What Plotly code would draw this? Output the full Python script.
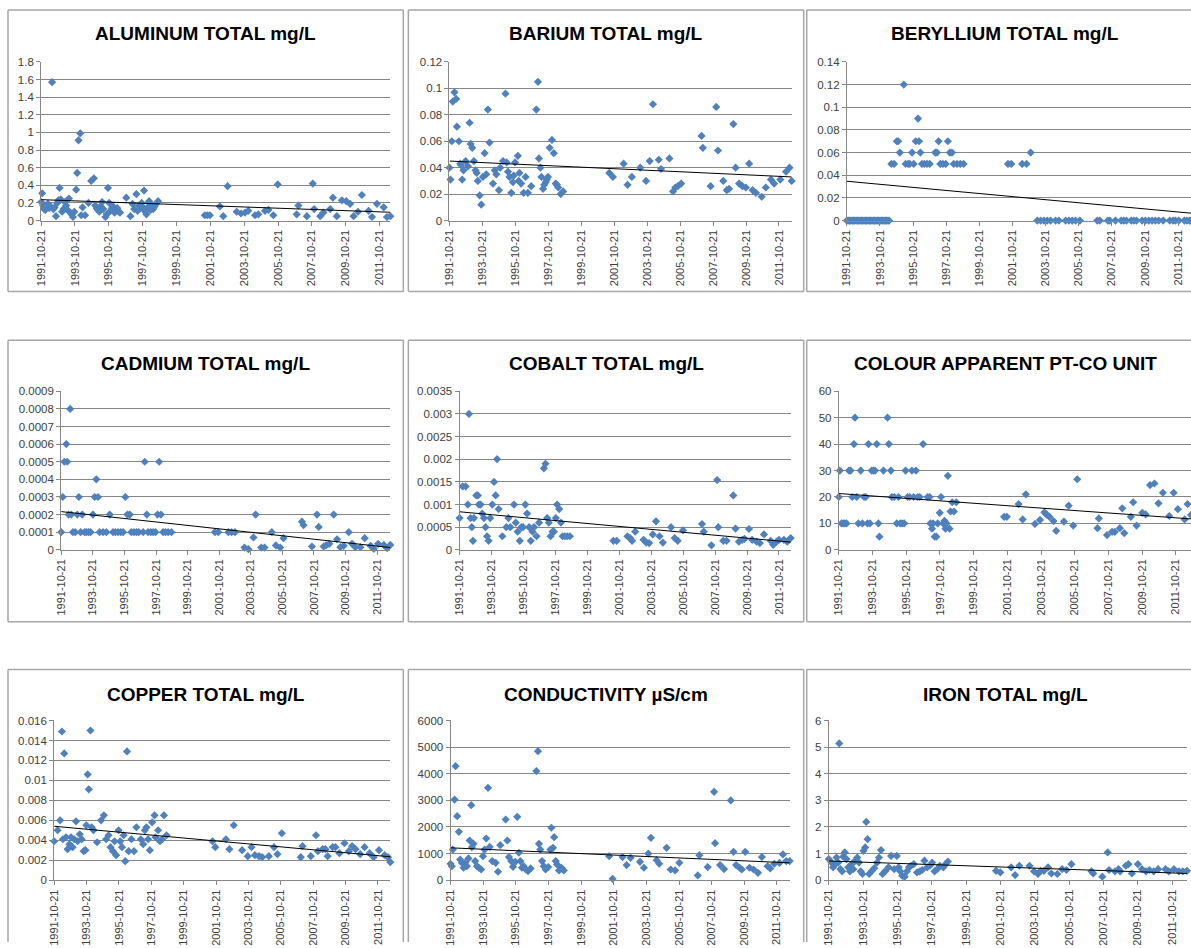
import plotly.graph_objects as go
from datetime import datetime, timedelta

# ---------------- DATA (decimal year, value) ----------------
X_TICK_LABELS = ['1991-10-21', '1993-10-21', '1995-10-21', '1997-10-21', '1999-10-21',
                 '2001-10-21', '2003-10-21', '2005-10-21', '2007-10-21', '2009-10-21',
                 '2011-10-21']

AL_TITLE = 'ALUMINUM TOTAL mg/L'
AL_YTICKS = ['0', '0.2', '0.4', '0.6', '0.8', '1', '1.2', '1.4', '1.6', '1.8']
AL_TREND = [0.237, 0.094]
AL_POINTS = [
    (1991.80, 0.21), (1991.86, 0.31), (1991.92, 0.17), (1991.98, 0.13), (1992.05, 0.12),
    (1992.12, 0.15), (1992.20, 0.19), (1992.28, 0.14), (1992.36, 0.16), (1992.45, 1.57),
    (1992.53, 0.13), (1992.60, 0.15), (1992.68, 0.05), (1992.75, 0.20), (1992.82, 0.23),
    (1992.89, 0.37), (1992.96, 0.24), (1993.04, 0.10), (1993.12, 0.13), (1993.20, 0.21),
    (1993.28, 0.17), (1993.36, 0.12), (1993.44, 0.25), (1993.52, 0.09), (1993.60, 0.07),
    (1993.68, 0.04), (1993.76, 0.10), (1993.87, 0.35), (1993.93, 0.54), (1994.01, 0.91),
    (1994.11, 0.99), (1994.17, 0.06), (1994.25, 0.15), (1994.40, 0.06), (1994.60, 0.20),
    (1994.76, 0.45), (1994.92, 0.48), (1995.00, 0.17), (1995.08, 0.14), (1995.16, 0.12),
    (1995.24, 0.10), (1995.32, 0.16), (1995.40, 0.21), (1995.48, 0.13), (1995.60, 0.04),
    (1995.68, 0.07), (1995.75, 0.37), (1995.82, 0.20), (1995.90, 0.11), (1995.98, 0.14),
    (1996.06, 0.16), (1996.14, 0.09), (1996.22, 0.12), (1996.30, 0.14), (1996.38, 0.10),
    (1996.46, 0.09), (1996.83, 0.26), (1997.08, 0.05), (1997.20, 0.19), (1997.30, 0.13),
    (1997.43, 0.30), (1997.50, 0.11), (1997.58, 0.17), (1997.66, 0.14), (1997.74, 0.20),
    (1997.82, 0.15), (1997.88, 0.34), (1997.95, 0.10), (1998.02, 0.07), (1998.10, 0.15),
    (1998.18, 0.22), (1998.26, 0.12), (1998.34, 0.18), (1998.42, 0.13), (1998.50, 0.16),
    (1998.60, 0.19), (1998.71, 0.22),
    (2001.47, 0.06), (2001.62, 0.06), (2001.77, 0.06), (2002.36, 0.16), (2002.56, 0.05),
    (2002.82, 0.39), (2003.35, 0.10), (2003.61, 0.08), (2003.85, 0.09), (2004.04, 0.11),
    (2004.44, 0.06), (2004.63, 0.07), (2005.03, 0.11), (2005.23, 0.12), (2005.52, 0.06),
    (2005.78, 0.41), (2006.90, 0.07), (2007.00, 0.17), (2007.50, 0.05), (2007.85, 0.42),
    (2007.93, 0.13), (2008.29, 0.05), (2008.48, 0.09), (2008.88, 0.13), (2009.04, 0.26),
    (2009.27, 0.05), (2009.57, 0.23), (2009.83, 0.22), (2010.06, 0.19), (2010.26, 0.05),
    (2010.52, 0.10), (2010.75, 0.29), (2011.15, 0.11), (2011.35, 0.04), (2011.64, 0.19),
    (2012.04, 0.15), (2012.23, 0.04), (2012.43, 0.05),
]

BA_TITLE = 'BARIUM TOTAL mg/L'
BA_YTICKS = ['0', '0.02', '0.04', '0.06', '0.08', '0.1', '0.12']
BA_TREND = [0.045, 0.033]
BA_POINTS = [
    (1991.80, 0.040), (1991.86, 0.031), (1991.94, 0.060), (1992.00, 0.090), (1992.10, 0.097),
    (1992.20, 0.092), (1992.25, 0.071), (1992.37, 0.060), (1992.45, 0.043), (1992.50, 0.042),
    (1992.57, 0.031), (1992.65, 0.038), (1992.78, 0.045), (1992.92, 0.041), (1993.02, 0.074),
    (1993.08, 0.058), (1993.18, 0.055), (1993.28, 0.045), (1993.38, 0.038), (1993.45, 0.036),
    (1993.52, 0.030), (1993.63, 0.019), (1993.73, 0.012), (1993.83, 0.033), (1993.93, 0.051),
    (1994.03, 0.035), (1994.13, 0.084), (1994.23, 0.059), (1994.44, 0.028), (1994.55, 0.038),
    (1994.64, 0.035), (1994.80, 0.023), (1994.88, 0.040), (1995.05, 0.045), (1995.20, 0.096),
    (1995.27, 0.044), (1995.35, 0.037), (1995.44, 0.033), (1995.55, 0.021), (1995.65, 0.029),
    (1995.70, 0.034), (1995.78, 0.044), (1995.95, 0.049), (1996.00, 0.030), (1996.05, 0.036),
    (1996.15, 0.028), (1996.30, 0.021), (1996.42, 0.033), (1996.56, 0.021), (1996.76, 0.026),
    (1997.07, 0.084), (1997.17, 0.105), (1997.23, 0.047), (1997.32, 0.040), (1997.38, 0.033),
    (1997.48, 0.024), (1997.55, 0.027), (1997.64, 0.029), (1997.70, 0.031), (1997.78, 0.033),
    (1997.88, 0.055), (1998.02, 0.061), (1998.13, 0.051), (1998.25, 0.028), (1998.32, 0.027),
    (1998.40, 0.025), (1998.55, 0.020), (1998.70, 0.022),
    (2001.50, 0.036), (2001.72, 0.033), (2002.37, 0.043), (2002.61, 0.027), (2002.87, 0.033),
    (2003.38, 0.040), (2003.73, 0.030), (2003.95, 0.045), (2004.15, 0.088), (2004.50, 0.046),
    (2004.64, 0.039), (2005.15, 0.047), (2005.37, 0.022), (2005.51, 0.025), (2005.66, 0.026),
    (2005.86, 0.028), (2007.10, 0.064), (2007.18, 0.055), (2007.65, 0.026), (2007.99, 0.086),
    (2008.10, 0.053), (2008.42, 0.030), (2008.63, 0.023), (2008.77, 0.024), (2009.03, 0.073),
    (2009.17, 0.040), (2009.38, 0.028), (2009.58, 0.026), (2009.79, 0.025), (2009.99, 0.043),
    (2010.20, 0.023), (2010.40, 0.021), (2010.75, 0.018), (2011.00, 0.025), (2011.31, 0.031),
    (2011.51, 0.028), (2011.88, 0.031), (2012.23, 0.037), (2012.44, 0.040), (2012.57, 0.030),
]

BE_TITLE = 'BERYLLIUM TOTAL mg/L'
BE_YTICKS = ['0', '0.02', '0.04', '0.06', '0.08', '0.1', '0.12', '0.14']
BE_TREND = [0.0347, 0.0065]
BE_POINTS = [
    (1991.80, 0), (1991.88, 0), (1991.96, 0), (1992.04, 0), (1992.12, 0), (1992.20, 0),
    (1992.28, 0), (1992.36, 0), (1992.44, 0), (1992.52, 0), (1992.60, 0), (1992.68, 0),
    (1992.76, 0), (1992.84, 0), (1992.92, 0), (1993.00, 0), (1993.08, 0), (1993.16, 0),
    (1993.24, 0), (1993.32, 0), (1993.40, 0), (1993.48, 0), (1993.56, 0), (1993.64, 0),
    (1993.72, 0), (1993.80, 0), (1993.88, 0), (1993.96, 0), (1994.04, 0), (1994.12, 0),
    (1994.20, 0), (1994.28, 0), (1994.35, 0),
    (1994.49, 0.05), (1994.65, 0.05), (1994.82, 0.07), (1994.90, 0.07), (1995.00, 0.06),
    (1995.24, 0.12), (1995.35, 0.05), (1995.50, 0.05), (1995.60, 0.05), (1995.74, 0.06),
    (1995.84, 0.05), (1995.96, 0.07), (1996.10, 0.09), (1996.16, 0.07), (1996.24, 0.06),
    (1996.34, 0.05), (1996.48, 0.05), (1996.64, 0.05), (1996.80, 0.05), (1997.14, 0.06),
    (1997.24, 0.06), (1997.34, 0.07), (1997.44, 0.05), (1997.60, 0.05), (1997.77, 0.05),
    (1997.90, 0.07), (1998.02, 0.06), (1998.15, 0.06), (1998.25, 0.05), (1998.45, 0.05),
    (1998.65, 0.05), (1998.85, 0.05),
    (2001.53, 0.05), (2001.73, 0.05), (2002.39, 0.05), (2002.65, 0.05), (2002.90, 0.06),
    (2003.30, 0), (2003.50, 0), (2003.70, 0), (2003.90, 0), (2004.10, 0), (2004.40, 0),
    (2004.60, 0), (2005.01, 0), (2005.21, 0), (2005.41, 0), (2005.61, 0), (2005.87, 0),
    (2006.92, 0), (2007.08, 0), (2007.56, 0), (2007.68, 0), (2008.02, 0), (2008.36, 0),
    (2008.52, 0), (2008.68, 0), (2008.97, 0), (2009.13, 0), (2009.29, 0), (2009.63, 0),
    (2009.83, 0), (2010.03, 0), (2010.23, 0), (2010.43, 0), (2010.63, 0), (2010.90, 0),
    (2011.30, 0), (2011.50, 0), (2011.64, 0), (2011.84, 0), (2012.18, 0), (2012.34, 0),
    (2012.50, 0), (2012.58, 0),
]

CD_TITLE = 'CADMIUM TOTAL mg/L'
CD_YTICKS = ['0', '0.0001', '0.0002', '0.0003', '0.0004', '0.0005', '0.0006', '0.0007',
             '0.0008', '0.0009']
CD_TREND = [0.000217, 0.000013]
CD_POINTS = [
    (1991.80, 0.0001), (1991.90, 0.0003), (1992.00, 0.0005), (1992.12, 0.0006),
    (1992.18, 0.0005), (1992.27, 0.0002), (1992.37, 0.0008), (1992.43, 0.0002),
    (1992.54, 0.0001), (1992.69, 0.0001), (1992.82, 0.0002), (1992.92, 0.0003),
    (1993.03, 0.0001), (1993.13, 0.0002), (1993.28, 0.0001), (1993.39, 0.0001),
    (1993.53, 0.0001), (1993.66, 0.0001), (1993.81, 0.0002), (1993.92, 0.0003),
    (1994.02, 0.0004), (1994.13, 0.0003), (1994.23, 0.0001), (1994.45, 0.0001),
    (1994.66, 0.0001), (1994.87, 0.0002), (1995.08, 0.0001), (1995.23, 0.0001),
    (1995.40, 0.0001), (1995.57, 0.0001), (1995.72, 0.0001), (1995.86, 0.0003),
    (1995.99, 0.0002), (1996.14, 0.0002), (1996.24, 0.0001), (1996.41, 0.0001),
    (1996.56, 0.0001), (1996.71, 0.0001), (1996.99, 0.0001), (1997.09, 0.0005),
    (1997.22, 0.0002), (1997.30, 0.0001), (1997.47, 0.0001), (1997.62, 0.0001),
    (1997.77, 0.0001), (1997.90, 0.0002), (1998.00, 0.0005), (1998.11, 0.0002),
    (1998.25, 0.0001), (1998.40, 0.0001), (1998.57, 0.0001), (1998.78, 0.0001),
    (2001.53, 0.0001), (2001.74, 0.0001), (2002.38, 0.0001), (2002.59, 0.0001),
    (2002.80, 0.0001), (2003.40, 0.000013), (2003.65, 0.000004), (2003.97, 0.00007),
    (2004.11, 0.0002), (2004.46, 0.000013), (2004.67, 0.000013), (2005.13, 0.0001),
    (2005.39, 0.000025), (2005.66, 0.000013), (2005.87, 0.000066), (2007.04, 0.00016),
    (2007.14, 0.00014), (2007.67, 0.000019), (2007.99, 0.0002), (2008.10, 0.00013),
    (2008.41, 0.000019), (2008.56, 0.000025), (2008.77, 0.000034), (2009.05, 0.0002),
    (2009.26, 0.00006), (2009.47, 0.000015), (2009.68, 0.000023), (2010.00, 0.0001),
    (2010.21, 0.000034), (2010.42, 0.000015), (2010.74, 0.000015), (2011.01, 0.000066),
    (2011.38, 0.000023), (2011.59, 0.000006), (2011.86, 0.000034), (2012.22, 0.000028),
    (2012.43, 0.000009), (2012.63, 0.000028),
]

CO_TITLE = 'COBALT TOTAL mg/L'
CO_YTICKS = ['0', '0.0005', '0.001', '0.0015', '0.002', '0.0025', '0.003', '0.0035']
CO_TREND = [0.00084, 0.00017]
CO_POINTS = [
    (1991.80, 0.0007), (1992.00, 0.0014), (1992.18, 0.0014), (1992.32, 0.001),
    (1992.39, 0.003), (1992.49, 0.0007), (1992.57, 0.0005), (1992.64, 0.0002),
    (1992.70, 0.0007), (1992.85, 0.0012), (1992.95, 0.0012), (1993.01, 0.001),
    (1993.12, 0.001), (1993.22, 0.0008), (1993.33, 0.0007), (1993.43, 0.0005),
    (1993.52, 0.0003), (1993.62, 0.0002), (1993.72, 0.0007), (1993.85, 0.001),
    (1993.96, 0.0015), (1994.06, 0.0012), (1994.15, 0.002), (1994.25, 0.0009),
    (1994.48, 0.0003), (1994.73, 0.0005), (1994.86, 0.0007), (1994.98, 0.0005),
    (1995.21, 0.001), (1995.32, 0.0006), (1995.44, 0.0004), (1995.57, 0.0002),
    (1995.67, 0.0005), (1995.78, 0.0005), (1995.92, 0.001), (1996.03, 0.0008),
    (1996.16, 0.0005), (1996.26, 0.0002), (1996.37, 0.0004), (1996.47, 0.0005),
    (1996.62, 0.0003), (1996.78, 0.0006), (1997.08, 0.0018), (1997.18, 0.0019),
    (1997.29, 0.0007), (1997.39, 0.0006), (1997.50, 0.0003), (1997.62, 0.0004),
    (1997.71, 0.0004), (1997.83, 0.0007), (1997.91, 0.001), (1998.04, 0.0009),
    (1998.15, 0.0006), (1998.25, 0.0003), (1998.40, 0.0003), (1998.54, 0.0003),
    (1998.71, 0.0003),
    (2001.43, 0.0002), (2001.64, 0.0002), (2002.31, 0.0003), (2002.48, 0.00026),
    (2002.60, 0.0002), (2002.80, 0.0004), (2003.32, 0.00022), (2003.49, 0.00016),
    (2003.67, 0.00015), (2003.90, 0.00034), (2004.10, 0.00063), (2004.32, 0.0003),
    (2004.53, 0.00016), (2005.04, 0.0005), (2005.27, 0.00026), (2005.46, 0.0002),
    (2005.79, 0.00043), (2006.98, 0.00057), (2007.09, 0.0004), (2007.57, 0.0001),
    (2007.93, 0.00154), (2008.00, 0.0005), (2008.31, 0.0002), (2008.52, 0.0002),
    (2008.94, 0.0012), (2009.08, 0.00047), (2009.29, 0.00018), (2009.50, 0.00022),
    (2009.64, 0.00024), (2009.92, 0.00046), (2010.12, 0.00022), (2010.40, 0.00018),
    (2010.60, 0.00015), (2010.86, 0.00034), (2011.28, 0.0002), (2011.44, 0.00011),
    (2011.65, 0.00018), (2011.80, 0.00022), (2012.11, 0.00022), (2012.32, 0.00018),
    (2012.53, 0.00026),
]

COL_TITLE = 'COLOUR APPARENT PT-CO UNIT'
COL_YTICKS = ['0', '10', '20', '30', '40', '50', '60']
COL_TREND = [21.3, 11.7]
COL_POINTS = [
    (1991.80, 20), (1991.86, 30), (1991.96, 10), (1992.06, 10), (1992.16, 10), (1992.26, 10),
    (1992.40, 30), (1992.50, 30), (1992.60, 20), (1992.70, 40), (1992.76, 50), (1992.86, 20),
    (1992.96, 10), (1993.10, 30), (1993.20, 10), (1993.30, 20), (1993.40, 20), (1993.50, 10),
    (1993.56, 40), (1993.65, 10), (1993.75, 30), (1993.85, 30), (1993.95, 30), (1994.05, 40),
    (1994.15, 10), (1994.21, 5), (1994.45, 30), (1994.69, 50), (1994.77, 40), (1994.89, 30),
    (1994.95, 20), (1995.09, 20), (1995.24, 10), (1995.34, 20), (1995.44, 10), (1995.56, 10),
    (1995.68, 10), (1995.76, 30), (1995.88, 20), (1996.00, 20), (1996.14, 30), (1996.24, 20),
    (1996.38, 30), (1996.48, 20), (1996.60, 20), (1996.80, 40), (1997.07, 20), (1997.19, 20),
    (1997.23, 10), (1997.33, 8), (1997.39, 10), (1997.49, 5), (1997.59, 5), (1997.67, 10),
    (1997.79, 14), (1997.87, 20), (1997.99, 10), (1998.07, 11), (1998.13, 8), (1998.19, 10),
    (1998.27, 28), (1998.37, 8), (1998.43, 14.5), (1998.53, 18), (1998.63, 14.5),
    (1998.77, 18),
    (2001.61, 12.5), (2001.77, 12.5), (2002.47, 17.3), (2002.71, 11.5), (2002.90, 21),
    (2003.44, 9.8), (2003.74, 11.3), (2004.00, 14.2), (2004.16, 13.2), (2004.30, 12.5),
    (2004.54, 10.9), (2004.70, 7.2), (2005.16, 10.7), (2005.44, 16.7), (2005.71, 9.2),
    (2005.95, 26.7), (2007.15, 8.2), (2007.23, 11.9), (2007.72, 5.6), (2008.02, 6.8),
    (2008.18, 6.8), (2008.48, 8.2), (2008.62, 15.7), (2008.74, 6.3), (2009.13, 12.5),
    (2009.27, 18), (2009.47, 9.2), (2009.81, 14), (2010.01, 13.4), (2010.27, 24.5),
    (2010.53, 25.1), (2010.77, 17.6), (2011.03, 21.6), (2011.41, 12.8), (2011.67, 21.6),
    (2011.92, 15.4), (2012.32, 11.5), (2012.50, 17.3), (2012.70, 13.2),
]

CU_TITLE = 'COPPER TOTAL mg/L'
CU_YTICKS = ['0', '0.002', '0.004', '0.006', '0.008', '0.01', '0.012', '0.014', '0.016']
CU_TREND = [0.0054, 0.00234]
CU_POINTS = [
    (1991.80, 0.0039), (1992.01, 0.005), (1992.17, 0.006), (1992.28, 0.0149),
    (1992.34, 0.0041), (1992.42, 0.0127), (1992.53, 0.0043), (1992.63, 0.0031),
    (1992.74, 0.0036), (1992.84, 0.0043), (1992.94, 0.0033), (1993.04, 0.0041),
    (1993.15, 0.0059), (1993.25, 0.0039), (1993.38, 0.0046), (1993.50, 0.0041),
    (1993.62, 0.0029), (1993.73, 0.003), (1993.79, 0.0055), (1993.87, 0.0106),
    (1993.94, 0.0091), (1994.04, 0.015), (1994.12, 0.0053), (1994.23, 0.005),
    (1994.45, 0.0038), (1994.70, 0.006), (1994.87, 0.0065), (1995.01, 0.0041),
    (1995.16, 0.0045), (1995.28, 0.0033), (1995.43, 0.0029), (1995.53, 0.0039),
    (1995.63, 0.0025), (1995.78, 0.005), (1995.88, 0.0039), (1995.99, 0.0033),
    (1996.09, 0.0045), (1996.19, 0.0019), (1996.30, 0.0129), (1996.40, 0.0029),
    (1996.57, 0.0041), (1996.73, 0.0029), (1996.88, 0.0053), (1997.15, 0.0041),
    (1997.30, 0.0036), (1997.40, 0.005), (1997.50, 0.0053), (1997.60, 0.0041),
    (1997.71, 0.003), (1997.85, 0.0058), (1998.00, 0.0065), (1998.06, 0.0043),
    (1998.22, 0.005), (1998.33, 0.0039), (1998.47, 0.0041), (1998.58, 0.0065),
    (1998.74, 0.0045),
    (2001.58, 0.0039), (2001.75, 0.0033), (2002.41, 0.0041), (2002.62, 0.0031),
    (2002.89, 0.0055), (2003.41, 0.003), (2003.76, 0.0024), (2003.99, 0.0033),
    (2004.20, 0.0025), (2004.45, 0.0024), (2004.65, 0.0023), (2005.06, 0.0024),
    (2005.38, 0.0033), (2005.59, 0.0026), (2005.86, 0.0047), (2007.03, 0.0023),
    (2007.14, 0.0034), (2007.65, 0.0024), (2007.97, 0.0045), (2008.09, 0.0029),
    (2008.38, 0.0031), (2008.55, 0.0031), (2008.69, 0.0024), (2009.00, 0.0033),
    (2009.17, 0.0033), (2009.42, 0.0027), (2009.73, 0.0037), (2010.00, 0.0029),
    (2010.20, 0.0034), (2010.41, 0.0031), (2010.70, 0.0026), (2010.97, 0.0033),
    (2011.28, 0.0027), (2011.53, 0.0023), (2011.86, 0.003), (2012.21, 0.0025),
    (2012.42, 0.0023), (2012.56, 0.0018),
]

EC_TITLE = 'CONDUCTIVITY µS/cm'
EC_YTICKS = ['0', '1000', '2000', '3000', '4000', '5000', '6000']
EC_TREND = [1215, 650]
EC_POINTS = [
    (1991.80, 615), (1991.88, 526), (1991.94, 1150), (1992.05, 3030), (1992.11, 4285),
    (1992.21, 2405), (1992.31, 1815), (1992.39, 775), (1992.50, 650), (1992.60, 465),
    (1992.70, 650), (1992.80, 525), (1992.90, 815), (1992.97, 1490), (1993.07, 2820),
    (1993.11, 1240), (1993.21, 1365), (1993.31, 715), (1993.42, 525), (1993.54, 465),
    (1993.68, 400), (1993.79, 900), (1993.89, 1150), (1993.99, 1565), (1994.10, 3470),
    (1994.20, 1250), (1994.36, 715), (1994.57, 650), (1994.71, 315), (1994.85, 1315),
    (1995.18, 2280), (1995.28, 1490), (1995.38, 865), (1995.52, 715), (1995.63, 500),
    (1995.77, 690), (1995.89, 2380), (1995.99, 1030), (1996.08, 715), (1996.18, 465),
    (1996.28, 525), (1996.41, 400), (1996.55, 340), (1996.71, 440), (1997.06, 4100),
    (1997.16, 4850), (1997.22, 1365), (1997.30, 1150), (1997.41, 715), (1997.51, 525),
    (1997.63, 400), (1997.78, 490), (1997.92, 1150), (1997.98, 1970), (1998.08, 1215),
    (1998.15, 1615), (1998.25, 715), (1998.33, 590), (1998.45, 365), (1998.60, 465),
    (1998.74, 365),
    (2001.52, 900), (2001.73, 50), (2002.34, 865), (2002.59, 565), (2002.83, 840),
    (2003.41, 690), (2003.65, 465), (2003.92, 1000), (2004.08, 1590), (2004.43, 750),
    (2004.59, 615), (2005.04, 1215), (2005.29, 400), (2005.56, 365), (2005.82, 650),
    (2006.95, 175), (2007.05, 940), (2007.56, 490), (2007.95, 3320), (2008.01, 1390),
    (2008.32, 565), (2008.56, 415), (2008.97, 2995), (2009.14, 1065), (2009.30, 565),
    (2009.51, 465), (2009.65, 400), (2009.86, 1065), (2010.12, 465), (2010.37, 400),
    (2010.64, 275), (2010.88, 865), (2011.23, 525), (2011.39, 440), (2011.64, 615),
    (2011.96, 650), (2012.17, 965), (2012.37, 715), (2012.58, 715),
]

FE_TITLE = 'IRON TOTAL mg/L'
FE_YTICKS = ['0', '1', '2', '3', '4', '5', '6']
FE_TREND = [0.72, 0.25]
FE_POINTS = [
    (1991.80, 0.79), (1991.96, 0.66), (1992.05, 0.48), (1992.15, 0.58), (1992.25, 0.85),
    (1992.35, 0.66), (1992.41, 5.14), (1992.48, 0.41), (1992.58, 0.33), (1992.64, 0.88),
    (1992.73, 1.04), (1992.83, 0.79), (1992.93, 0.48), (1993.03, 0.33), (1993.13, 0.60),
    (1993.23, 0.41), (1993.33, 0.73), (1993.46, 0.85), (1993.56, 0.66), (1993.66, 0.33),
    (1993.76, 0.23), (1993.82, 1.10), (1993.92, 1.23), (1993.98, 2.19), (1994.06, 1.54),
    (1994.15, 0.23), (1994.31, 0.35), (1994.45, 0.45), (1994.61, 0.66), (1994.72, 0.85),
    (1994.84, 1.13), (1994.93, 0.23), (1995.08, 0.33), (1995.28, 0.48), (1995.43, 0.91),
    (1995.61, 0.41), (1995.76, 0.91), (1995.87, 0.48), (1995.96, 0.33), (1996.08, 0.16),
    (1996.22, 0.13), (1996.35, 0.33), (1996.47, 0.48), (1996.59, 0.54), (1996.75, 0.60),
    (1996.94, 0.29), (1997.10, 0.33), (1997.24, 0.38), (1997.37, 0.73), (1997.53, 0.48),
    (1997.69, 0.54), (1997.82, 0.66), (1997.96, 0.33), (1998.11, 0.41), (1998.27, 0.54),
    (1998.47, 0.48), (1998.60, 0.60), (1998.74, 0.70),
    (2001.54, 0.35), (2001.79, 0.29), (2002.42, 0.48), (2002.65, 0.19), (2002.90, 0.54),
    (2003.49, 0.54), (2003.75, 0.33), (2003.98, 0.23), (2004.14, 0.35), (2004.33, 0.35),
    (2004.57, 0.48), (2004.76, 0.25), (2005.11, 0.23), (2005.39, 0.41), (2005.64, 0.38),
    (2005.93, 0.60), (2007.10, 0.33), (2007.20, 0.25), (2007.73, 0.13), (2008.04, 1.04),
    (2008.12, 0.38), (2008.47, 0.33), (2008.67, 0.41), (2008.77, 0.33), (2009.10, 0.54),
    (2009.25, 0.60), (2009.45, 0.25), (2009.80, 0.60), (2010.04, 0.41), (2010.27, 0.33),
    (2010.47, 0.38), (2010.72, 0.33), (2010.98, 0.41), (2011.41, 0.41), (2011.60, 0.33),
    (2011.90, 0.41), (2012.19, 0.33), (2012.42, 0.33), (2012.66, 0.35),
]

# ---------------- LAYOUT CONSTANTS (pixels of the target picture) ----------------
W, H = 1191, 948
# the photographed figure lands inside this frame of the picture
FRAME_X0, FRAME_Y0, FRAME_W, FRAME_H = 5, 5, 1181, 938
BASE_DATE = datetime(1991, 10, 21)
BASE_YEAR = 1991.8

PANELS = [
    (AL_TITLE, AL_POINTS, AL_TREND, AL_YTICKS),
    (BA_TITLE, BA_POINTS, BA_TREND, BA_YTICKS),
    (BE_TITLE, BE_POINTS, BE_TREND, BE_YTICKS),
    (CD_TITLE, CD_POINTS, CD_TREND, CD_YTICKS),
    (CO_TITLE, CO_POINTS, CO_TREND, CO_YTICKS),
    (COL_TITLE, COL_POINTS, COL_TREND, COL_YTICKS),
    (CU_TITLE, CU_POINTS, CU_TREND, CU_YTICKS),
    (EC_TITLE, EC_POINTS, EC_TREND, EC_YTICKS),
    (FE_TITLE, FE_POINTS, FE_TREND, FE_YTICKS),
]

PLOT_PX = [
    (40, 388, 61, 220), (447, 788, 61, 220), (843, 1187, 61, 220),
    (60, 388, 391, 550), (457, 787, 391, 550), (835, 1186, 391, 550),
    (53, 388, 721, 881), (448, 786, 721, 881), (825, 1182, 721, 881),
]
BOX_COLS = [(7, 401), (406, 800), (803, 1199)]
BOX_ROWS = [(9, 291), (340, 622), (670, 970)]
TITLE_Y = [33, 363, 695]

FONT = 'Liberation Sans, Arial, sans-serif'
GRID = '#878787'
TXT = '#404040'
MARK = '#4F81BD'
BOX_LINE = '#A6A6A6'


def to_date(y):
    return BASE_DATE + timedelta(days=(y - BASE_YEAR) * 365.25)


def fx(px):
    return max(0.0, min(1.0, (px - FRAME_X0) / FRAME_W))


def fy(py):
    return 1 - max(0.0, min(1.0, (py - FRAME_Y0) / FRAME_H))


def seg(xa0, ya0, xa1, ya1):
    return dict(type='line', xref='paper', yref='paper',
                x0=fx(xa0), y0=fy(ya0), x1=fx(xa1), y1=fy(ya1),
                line=dict(color=BOX_LINE, width=1.5), layer='below')


fig = go.Figure()
layout = dict(
    width=W, height=H, margin=dict(l=0, r=0, t=0, b=0),
    paper_bgcolor='white', plot_bgcolor='white', showlegend=False,
    font=dict(family=FONT, size=11, color=TXT),
)
shapes = []
annotations = []

for i, (title, pts, trend, yticks) in enumerate(PANELS):
    n = i + 1
    xs = [to_date(p[0]) for p in pts]
    ys = [p[1] for p in pts]
    xa = 'x' if n == 1 else f'x{n}'
    ya = 'y' if n == 1 else f'y{n}'
    fig.add_trace(go.Scatter(
        x=xs, y=ys, mode='markers', xaxis=xa, yaxis=ya, cliponaxis=False,
        marker=dict(symbol='diamond', size=6.3, color=MARK, line=dict(width=0)),
        hoverinfo='skip'))
    x_first = to_date(min(p[0] for p in pts))
    x_last = to_date(max(p[0] for p in pts))
    fig.add_trace(go.Scatter(
        x=[x_first, x_last], y=trend, mode='lines', xaxis=xa, yaxis=ya,
        line=dict(color='#000000', width=1), hoverinfo='skip'))

    x0, x1, yt, yb = PLOT_PX[i]
    yvals = [float(t) for t in yticks]
    layout['xaxis' if n == 1 else f'xaxis{n}'] = dict(
        domain=[fx(x0), fx(x1)], anchor=ya, type='date',
        range=[BASE_DATE, x_last],
        tickvals=X_TICK_LABELS, ticktext=X_TICK_LABELS, tickangle=-90,
        showgrid=False, showline=True, linecolor=GRID, linewidth=1,
        ticks='outside', ticklen=4, tickcolor=GRID, zeroline=False,
        tickfont=dict(family=FONT, size=11, color=TXT), fixedrange=True)
    layout['yaxis' if n == 1 else f'yaxis{n}'] = dict(
        domain=[fy(yb), fy(yt)], anchor=xa,
        range=[0, yvals[-1] * 1.0005],
        tickvals=yvals, ticktext=yticks,
        showgrid=True, gridcolor=GRID, gridwidth=1,
        showline=True, linecolor=GRID, linewidth=1,
        ticks='outside', ticklen=4, tickcolor=GRID, zeroline=False,
        tickfont=dict(family=FONT, size=11.5, color=TXT), fixedrange=True)

    r, c = divmod(i, 3)
    bx0, bx1 = BOX_COLS[c]
    by0, by1 = BOX_ROWS[r]
    shapes.append(seg(bx0, by0, bx0, by1))          # left
    shapes.append(seg(bx0, by0, bx1, by0))          # top
    if by1 < H:
        shapes.append(seg(bx0, by1, bx1, by1))      # bottom
    if bx1 < W:
        shapes.append(seg(bx1, by0, bx1, by1))      # right
    annotations.append(dict(
        text=f'<b>{title}</b>', xref='paper', yref='paper',
        x=fx((bx0 + bx1) / 2), y=fy(TITLE_Y[r]), xanchor='center', yanchor='middle',
        showarrow=False, font=dict(family=FONT, size=19, color='#000000')))

layout['shapes'] = shapes
layout['annotations'] = annotations
fig.update_layout(**layout)
fig.write_html(
    'out.html',
    config={'displayModeBar': False, 'staticPlot': True},
    post_script="document.body.style.margin='0';document.body.style.overflow='hidden';")
